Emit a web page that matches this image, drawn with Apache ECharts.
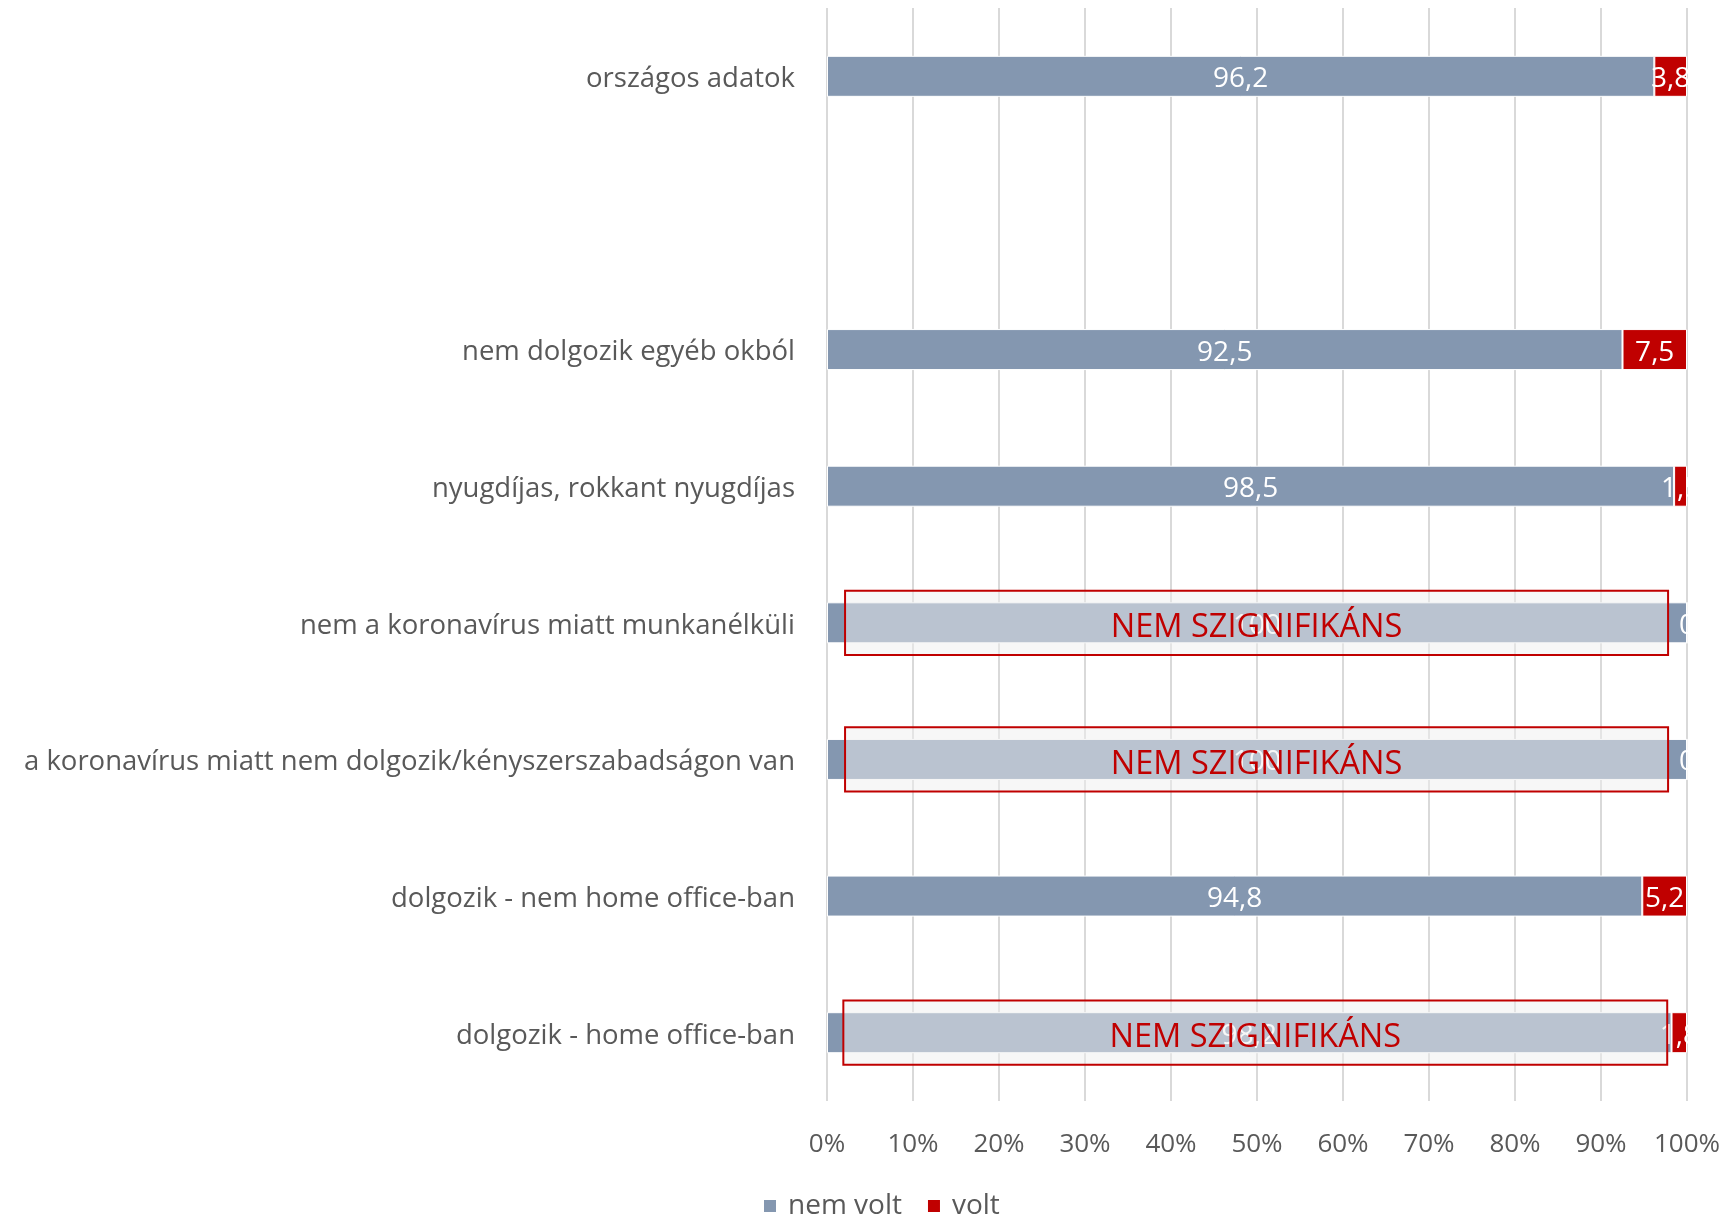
<!DOCTYPE html>
<html>
<head>
<meta charset="utf-8">
<script src="https://cdn.jsdelivr.net/npm/echarts@6/dist/echarts.min.js"></script>
<style>
  html, body { margin: 0; padding: 0; background: #fff; }
  #chart { width: 1729px; height: 1218px; }
</style>
</head>
<body>
<div id="chart"></div>
<script>
// categories top to bottom, the empty one is a gap row
var categories = [
  'országos adatok',
  '',
  'nem dolgozik egyéb okból',
  'nyugdíjas, rokkant nyugdíjas',
  'nem a koronavírus miatt munkanélküli',
  'a koronavírus miatt nem dolgozik/kényszerszabadságon van',
  'dolgozik - nem home office-ban',
  'dolgozik - home office-ban'
];
var nemVolt = [96.2, null, 92.5, 98.5, 100, 100, 94.8, 98.2];
var volt = [3.8, null, 7.5, 1.5, 0, 0, 5.2, 1.8];
var xTicks = [0, 10, 20, 30, 40, 50, 60, 70, 80, 90, 100];

// rows marked "NEM SZIGNIFIKÁNS": [category index, from %, to %]
var notSignificant = [
  [4, 2.1, 97.8],
  [5, 2.1, 97.8],
  [7, 1.9, 97.7]
];
var nsText = 'NEM SZIGNIFIKÁNS';

var FONT = 'Open Sans';
var GREY = '#595959';
var BLUE = '#8497B0';
var RED = '#C00000';

function fmt(p) {
  return String(p.value).replace('.', ',');
}

var chart = echarts.init(document.getElementById('chart'));

chart.setOption({
  animation: false,
  textStyle: { fontFamily: FONT },
  grid: { left: 827, right: 42, top: 8, bottom: 117, containLabel: false },
  legend: {
    top: 1187,
    left: 757,
    itemWidth: 14,
    itemHeight: 14,
    itemGap: 24,
    icon: 'rect',
    textStyle: { fontFamily: FONT, fontSize: 28, color: GREY, padding: [0, 0, 0, 6] },
    data: ['nem volt', 'volt']
  },
  xAxis: {
    type: 'value',
    min: 0,
    max: 100,
    interval: 10,
    axisLine: { show: false },
    axisTick: { show: false },
    splitLine: { lineStyle: { color: '#D9D9D9', width: 2 } },
    axisLabel: {
      margin: 31,
      fontSize: 26,
      color: GREY,
      fontFamily: FONT,
      formatter: function (v) { return xTicks.indexOf(v) >= 0 ? v + '%' : ''; }
    }
  },
  yAxis: {
    type: 'category',
    inverse: true,
    data: categories,
    axisLine: { show: false },
    axisTick: { show: false },
    axisLabel: {
      margin: 32,
      color: GREY,
      formatter: function (v) { return v ? '{c|' + v + '}' : ''; },
      rich: { c: { fontSize: 27.5, color: GREY, fontFamily: FONT, padding: [6, 0, 0, 0] } }
    }
  },
  series: [
    {
      name: 'nem volt',
      type: 'bar',
      stack: 'all',
      barWidth: 41,
      data: nemVolt,
      itemStyle: { color: BLUE, borderColor: '#fff', borderWidth: 1 },
      label: { show: true, position: 'inside', color: '#fff', fontSize: 28, fontFamily: FONT, offset: [0, 3], formatter: fmt }
    },
    {
      name: 'volt',
      type: 'bar',
      stack: 'all',
      barWidth: 41,
      data: volt,
      itemStyle: { color: RED, borderColor: '#fff', borderWidth: 1 },
      label: { show: true, position: 'inside', color: '#fff', fontSize: 28, fontFamily: FONT, offset: [0, 3], formatter: fmt }
    },
    {
      type: 'custom',
      name: 'ns',
      data: notSignificant,
      encode: { x: [1, 2], y: 0 },
      z: 10,
      silent: true,
      renderItem: function (params, api) {
        var cat = api.value(0);
        var a = api.coord([api.value(1), cat]);
        var b = api.coord([api.value(2), cat]);
        var h = api.size([0, 1])[1] * 0.47;
        return {
          type: 'group',
          children: [
            {
              type: 'rect',
              shape: { x: a[0], y: a[1] - h / 2, width: b[0] - a[0], height: h },
              style: { fill: 'rgba(240,240,240,0.5)', stroke: RED, lineWidth: 2 }
            },
            {
              type: 'text',
              style: {
                x: (a[0] + b[0]) / 2,
                y: a[1] + 5,
                text: nsText,
                fill: RED,
                font: '32.5px "' + FONT + '"',
                align: 'center',
                verticalAlign: 'middle'
              }
            }
          ]
        };
      }
    }
  ]
});
</script>
</body>
</html>
